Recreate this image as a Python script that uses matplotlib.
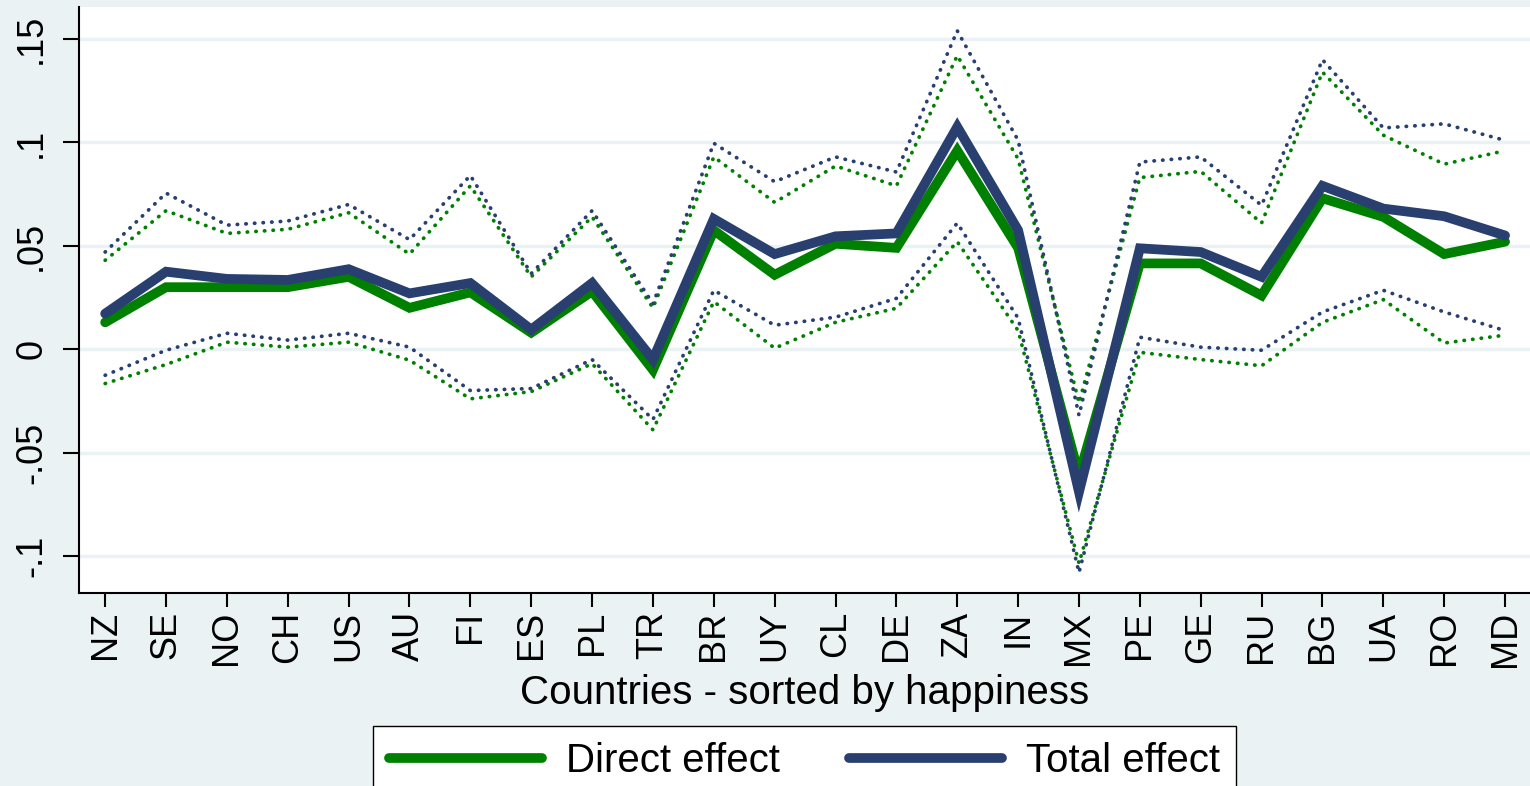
import numpy as np
import matplotlib
matplotlib.use('Agg')
import matplotlib.pyplot as plt

countries = ['NZ', 'SE', 'NO', 'CH', 'US', 'AU', 'FI', 'ES', 'PL', 'TR', 'BR', 'UY',
             'CL', 'DE', 'ZA', 'IN', 'MX', 'PE', 'GE', 'RU', 'BG', 'UA', 'RO', 'MD']

# direct effect with confidence bounds
direct = [0.013, 0.030, 0.030, 0.030, 0.035, 0.020, 0.0275, 0.008, 0.028, -0.010, 0.0575, 0.036,
          0.051, 0.049, 0.096, 0.049, -0.061, 0.0415, 0.0415, 0.026, 0.073, 0.064, 0.046, 0.052]
direct_hi = [0.043, 0.067, 0.056, 0.058, 0.066, 0.046, 0.079, 0.035, 0.064, 0.020, 0.093, 0.071,
             0.0886, 0.079, 0.142, 0.092, -0.026, 0.083, 0.086, 0.061, 0.134, 0.1035, 0.0895, 0.096]
direct_lo = [-0.0166, -0.0074, 0.0034, 0.001, 0.0034, -0.0053, -0.024, -0.0205, -0.007, -0.039, 0.023, 0.0005,
             0.013, 0.0198, 0.052, 0.009, -0.1035, -0.0015, -0.005, -0.008, 0.013, 0.024, 0.003, 0.0068]

# total effect with confidence bounds
total = [0.0172, 0.0375, 0.034, 0.0335, 0.0387, 0.027, 0.032, 0.0095, 0.032, -0.005, 0.063, 0.046,
         0.0546, 0.056, 0.1075, 0.0575, -0.069, 0.0488, 0.047, 0.035, 0.079, 0.068, 0.0643, 0.055]
total_hi = [0.047, 0.0755, 0.060, 0.062, 0.070, 0.053, 0.084, 0.0366, 0.067, 0.022, 0.0996, 0.081,
            0.093, 0.0857, 0.154, 0.101, -0.032, 0.0905, 0.093, 0.0696, 0.140, 0.107, 0.109, 0.101]
total_lo = [-0.0126, -0.0005, 0.0077, 0.0044, 0.0077, 0.001, -0.020, -0.019, -0.005, -0.034, 0.0285, 0.0116,
            0.0155, 0.0246, 0.061, 0.015, -0.108, 0.0058, 0.001, -0.0005, 0.018, 0.0285, 0.018, 0.009]

yticks = [-0.1, -0.05, 0, 0.05, 0.1, 0.15]
ytick_labels = ['-.1', '-.05', '0', '.05', '.1', '.15']

green = '#008000'
navy = '#283F6F'
bg = '#EAF2F3'

plt.rcParams['font.family'] = ['Liberation Sans', 'DejaVu Sans']

fig = plt.figure(figsize=(15.3, 7.86), dpi=100, facecolor=bg)
ax = fig.add_axes([79 / 1530, 193 / 786, 1451 / 1530, 586 / 786])
ax.set_facecolor('white')

x = np.arange(len(countries))
# confidence bounds, dotted
dot = dict(linestyle=(0, (0.1, 2.2)), dash_capstyle='round', linewidth=2.7)
ax.plot(x, direct_hi, color=green, **dot)
ax.plot(x, direct_lo, color=green, **dot)
ax.plot(x, total_hi, color=navy, **dot)
ax.plot(x, total_lo, color=navy, **dot)
ax.plot(x, direct, color=green, linewidth=7, solid_capstyle='round', solid_joinstyle='miter',
        label='Direct effect')
ax.plot(x, total, color=navy, linewidth=7, solid_capstyle='round', solid_joinstyle='miter',
        label='Total effect')

ax.set_xlim(-0.43, 23.41)
ax.set_ylim(-0.1179, 0.1655)
ax.set_yticks(yticks)
ax.set_yticklabels(ytick_labels, rotation=90, va='center')
ax.set_xticks(x)
ax.set_xticklabels(countries, rotation=90)
ax.grid(axis='y', color=bg, linewidth=2.5)
ax.set_axisbelow(True)

for s in ['top', 'right']:
    ax.spines[s].set_visible(False)
for s in ['left', 'bottom']:
    ax.spines[s].set_linewidth(1.5)
ax.tick_params(axis='x', length=10, width=1.5, pad=3, labelsize=26)
ax.tick_params(axis='y', length=11.5, width=1.5, pad=10, labelsize=26)

ax.set_xlabel('Countries - sorted by happiness', fontsize=29)
ax.xaxis.set_label_coords(0.5, -0.138)

fig.legend(loc='upper center', bbox_to_anchor=(804.5 / 1530, 60 / 786), ncol=2,
           fontsize=29, frameon=True, fancybox=False, edgecolor='black', framealpha=1,
           handlelength=3.8, handletextpad=0.6, columnspacing=1.7, borderpad=0.4,
           borderaxespad=0)

plt.savefig('out.png', dpi=100, facecolor=bg)
